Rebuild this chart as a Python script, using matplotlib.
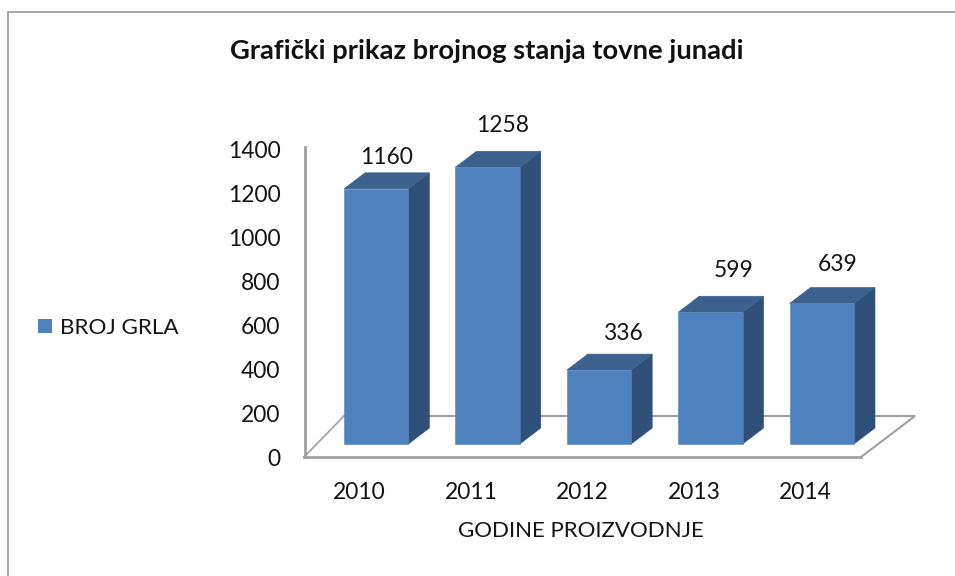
import matplotlib
matplotlib.use("Agg")
import matplotlib.pyplot as plt
from matplotlib.lines import Line2D
from matplotlib.patches import Patch, Polygon
from matplotlib.transforms import Affine2D, ScaledTranslation

years = ["2010", "2011", "2012", "2013", "2014"]
values = [1160, 1258, 336, 599, 639]
series_name = "BROJ GRLA"
title = "Grafički prikaz brojnog stanja tovne junadi"
xlabel = "GODINE PROIZVODNJE"
yticks = [0, 200, 400, 600, 800, 1000, 1200, 1400]

W, H, DPI = 955, 576, 100
plt.rcParams["font.family"] = ["Lato", "DejaVu Sans"]
TEXT = "#141414"
FRONT, TOP, SIDE = "#4f81bd", "#3c618c", "#2f5078"
GRID = "#a0a0a0"

fig = plt.figure(figsize=(W / DPI, H / DPI), dpi=DPI, facecolor="white")
L, R, B, T = 304, 861, 457, 149
ax = fig.add_axes([L / W, 1 - B / H, (R - L) / W, (B - T) / H])
ax.set_xlim(-0.5, 4.5)
ax.set_ylim(0, 1400)
ax.patch.set_visible(False)
for s in ax.spines.values():
    s.set_visible(False)

px = Affine2D().scale(1 / W, -1 / H).translate(0, 1) + fig.transFigure
def deco(xs, ys, color=GRID, lw=1.6):
    ax.add_line(Line2D(xs, ys, transform=px, color=color, lw=lw, solid_joinstyle="miter",
                       clip_on=False, zorder=1))

# outer frame
deco([8, 8, 955], [576, 12, 12], color="#a6a6a6", lw=1.4)
# wall and floor
deco([304.5, 304.5], [147, 457], lw=2)
deco([304, 861], [457, 457], lw=2)
deco([304, 344], [457, 416], lw=1.2)
deco([344, 915, 861], [416, 416, 457], lw=1.5)

# bars with 3D-like faces
off = ax.transData + ScaledTranslation(16.5 / DPI, 13 / DPI, fig.dpi_scale_trans)
bar_w = 0.578
dx = 21 / ((R - L) / 5)
dy = 16 / ((B - T) / 1400)
for i, v in enumerate(values):
    x0, x1 = i - bar_w / 2, i + bar_w / 2
    faces = [
        ([(x1, 0), (x1 + dx, dy), (x1 + dx, v + dy), (x1, v)], SIDE),
        ([(x0, v), (x1, v), (x1 + dx, v + dy), (x0 + dx, v + dy)], TOP),
        ([(x0, 0), (x1, 0), (x1, v), (x0, v)], FRONT),
    ]
    for pts, col in faces:
        ax.add_patch(Polygon(pts, closed=True, facecolor=col, edgecolor=col, lw=0.4,
                             transform=off, clip_on=False, zorder=3))

# data labels
label_dx = [10, 15, 25, 23, 16]
label_dy = [31, 42, 37, 42, 39]
for i, v in enumerate(values):
    ax.annotate(str(v), (i, v), xycoords=off, xytext=(label_dx[i] * 0.72, label_dy[i] * 0.72),
                textcoords="offset points", ha="center", va="center",
                fontsize=16.4, color=TEXT, zorder=5, annotation_clip=False)

ax.set_xticks(range(len(years)), years)
ax.set_yticks(yticks)
ax.tick_params(axis="both", length=0, labelsize=16.4, labelcolor=TEXT)
ax.tick_params(axis="y", pad=17)
ax.tick_params(axis="x", pad=18)

fig.text(581 / W, 1 - 531 / H, xlabel, ha="center", va="center", fontsize=16, color=TEXT)
fig.text(487 / W, 1 - 51 / H, title, ha="center", va="center", fontsize=19.7, color="#111111", fontweight="bold")

leg = fig.legend(handles=[Patch(facecolor=FRONT, label=series_name)], loc="center left",
                 bbox_to_anchor=(38 / W, 1 - 328 / H), frameon=False, fontsize=16.2,
                 handlelength=0.62, handleheight=0.62, handletextpad=0.36, borderpad=0, borderaxespad=0,
                 labelcolor=TEXT)

fig.savefig("out.png", dpi=DPI)
